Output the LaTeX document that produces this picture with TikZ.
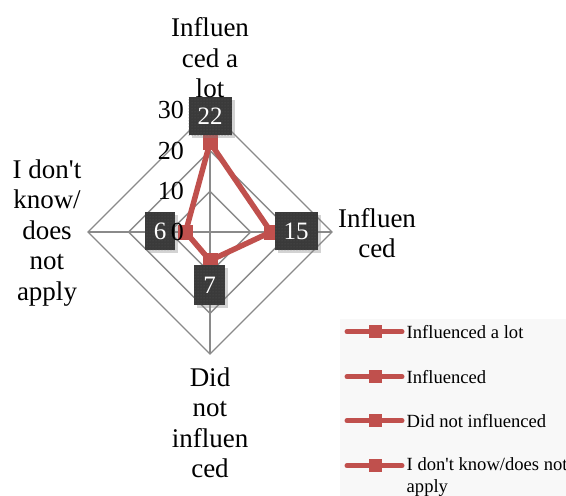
\documentclass[tikz,border=0pt]{standalone}
\usepackage{fontspec}
\setmainfont{Liberation Serif}
\usetikzlibrary{shadows,patterns}
\definecolor{serred}{HTML}{C0504D}
\definecolor{gridgray}{HTML}{8A8A8A}
\definecolor{boxgray}{HTML}{3A3A3A}
\definecolor{legbg}{HTML}{F8F8F8}
\begin{document}
\begin{tikzpicture}[x=1pt,y=-1pt,
 gridline/.style={draw=gridgray, line width=1.4pt},
 series/.style={draw=serred, line width=5.5pt, line join=round},
 mk/.style={fill=serred, minimum size=15pt, inner sep=0pt},
 valbox/.style={fill=boxgray, text=white, font=\fontsize{25}{25}\selectfont,
   inner xsep=9pt, minimum height=38pt,
   drop shadow={shadow xshift=3pt, shadow yshift=-3pt, opacity=0.35},
   postaction={pattern=dots, pattern color=gray!40!boxgray}},
 axlabel/.style={font=\fontsize{27}{30.5}\selectfont, align=center},
 ticklabel/.style={font=\fontsize{26}{26}\selectfont, anchor=east, inner sep=0pt},
 legtext/.style={font=\fontsize{18.6}{22}\selectfont, anchor=west, align=left, inner sep=0pt},
 legline/.style={draw=serred, line width=5pt, line cap=round}
]
\useasboundingbox (0,0) rectangle (566,496);
% grid
\coordinate (c) at (210,232);
\foreach \r in {40.67,81.33,122}{
  \draw[gridline] (210,232-\r) -- (210+\r,232) -- (210,232+\r) -- (210-\r,232) -- cycle;
}
\coordinate (vt) at (210,110);
\coordinate (vr) at (332,232);
\coordinate (vb) at (210,354);
\coordinate (vl) at (88,232);
\draw[gridline] (vt) -- (vb);
\draw[gridline] (vl) -- (vr);
% series
\coordinate (pt) at (210,142.5);
\coordinate (pr) at (271,232);
\coordinate (pb) at (210,260.5);
\coordinate (pl) at (185.6,232);
\draw[series] (pt) -- (pr) -- (pb) -- (pl) -- cycle;
\node[mk] (mt) at (pt) {};
\node[mk] (mr) at (pr) {};
\node[mk] (mb) at (pb) {};
\node[mk] (ml) at (pl) {};
% value boxes
\node[valbox] (bt) at (210,116) {22};
\node[valbox] (br) at (296,231) {15};
\node[valbox] (bl) at (160,231) {6};
\node[valbox, minimum height=40pt] (bb) at (209.5,285) {7};
% tick labels
\node[ticklabel] (t0) at (184,232) {0};
\node[ticklabel] (t10) at (184,191) {10};
\node[ticklabel] (t20) at (184,151) {20};
\node[ticklabel] (t30) at (184,110) {30};
% axis labels
\node[axlabel] (lt) at (210,58) {Influen\\ced a\\lot};
\node[axlabel] (lr) at (377,233) {Influen\\ced};
\node[axlabel] (lb) at (210,423) {Did\\not\\influen\\ced};
\node[axlabel] (ll) at (47,233) {I don\textquotesingle t\\know/\\does\\not\\apply};
% legend
\fill[legbg] (340,319) rectangle (566,496);
\foreach \y/\t/\n in {331.7/Influenced a lot/a, 376.7/Influenced/b, 420.7/Did not influenced/c}{
  \coordinate (la\n) at (347,\y);
  \coordinate (lz\n) at (402,\y);
  \draw[legline] (la\n) -- (lz\n);
  \node[mk, minimum size=13pt] (lm\n) at (375,\y) {};
  \node[legtext] (lt\n) at (406.5,\y) {\t};
}
\coordinate (lad) at (347,465.7);
\coordinate (lzd) at (402,465.7);
\draw[legline] (lad) -- (lzd);
\node[mk, minimum size=13pt] (lmd) at (375,465.7) {};
\node[legtext] (ltd) at (406.5,477) {I don\textquotesingle t know/does not\\apply};
\end{tikzpicture}
\end{document}
